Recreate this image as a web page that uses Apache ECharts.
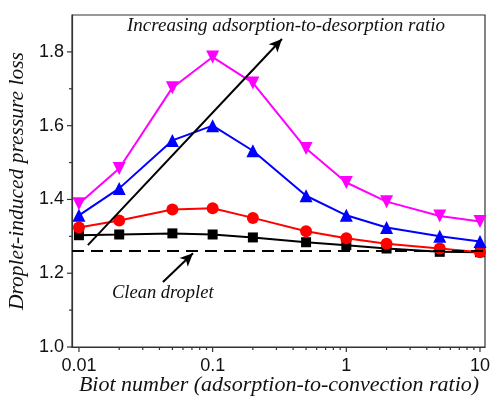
<!DOCTYPE html>
<html>
<head>
<meta charset="utf-8">
<script src="https://cdn.jsdelivr.net/npm/echarts@6/dist/echarts.min.js"></script>
<style>
  html, body { margin: 0; padding: 0; background: #fff; }
  #chart { width: 491px; height: 398px; }
</style>
</head>
<body>
<div id="chart"></div>
<script>
// Biot numbers (x) and pressure loss per adsorption-to-desorption ratio
const biot = [0.01, 0.02, 0.05, 0.1, 0.2, 0.5, 1, 2, 5, 10];
const lossBlack = [1.303, 1.305, 1.308, 1.305, 1.297, 1.284, 1.276, 1.267, 1.258, 1.257];
const lossRed = [1.324, 1.343, 1.373, 1.376, 1.350, 1.314, 1.295, 1.280, 1.267, 1.257];
const lossBlue = [1.357, 1.430, 1.560, 1.600, 1.532, 1.410, 1.357, 1.324, 1.300, 1.286];
const lossMagenta = [1.388, 1.484, 1.703, 1.786, 1.716, 1.538, 1.446, 1.394, 1.355, 1.340];
const cleanLoss = 1.257;

// annotation arrows: [tail, head] in data coords
const trendArrow = [[0.01166, 1.276], [0.33, 1.835]];
const cleanArrow = [[0.0425, 1.176], [0.0713, 1.254]];

// axes
const xMin = 0.00887, xMax = 10.9;
const yMin = 1.0, yMax = 1.9;
const xMajorTicks = [0.01, 0.1, 1, 10];
const xTickLabels = ['0.01', '0.1', '1', '10'];
const xMinorTicks = [0.02, 0.03, 0.04, 0.05, 0.06, 0.07, 0.08, 0.09,
  0.2, 0.3, 0.4, 0.5, 0.6, 0.7, 0.8, 0.9,
  2, 3, 4, 5, 6, 7, 8, 9];
const yMajorTicks = [1.0, 1.2, 1.4, 1.6, 1.8];
const yMinorTicks = [1.1, 1.3, 1.5, 1.7];

const axisColor = '#333';
const serif = '"Liberation Serif", "DejaVu Serif", serif';
const sans = '"Liberation Sans", Arial, sans-serif';

const tickData = [];
xMajorTicks.forEach(v => tickData.push([v, yMin, 0, 5]));
xMinorTicks.forEach(v => tickData.push([v, yMin, 0, 3]));
yMajorTicks.forEach(v => tickData.push([xMin, v, 1, 5]));
yMinorTicks.forEach(v => tickData.push([xMin, v, 1, 3]));

function pairs(ys) {
  return biot.map((x, i) => [x, ys[i]]);
}

function lineSeries(name, ys, color, symbol, size, rotate) {
  return {
    name,
    type: 'line',
    data: pairs(ys),
    symbol,
    symbolSize: size,
    symbolRotate: rotate || 0,
    showAllSymbol: true,
    lineStyle: { color, width: 2 },
    itemStyle: { color },
    z: 3
  };
}

function arrow(pts) {
  return [
    { coord: pts[0], symbol: 'none' },
    { coord: pts[1], symbol: 'arrow', symbolSize: [9, 13] }
  ];
}

const chart = echarts.init(document.getElementById('chart'));
chart.setOption({
  animation: false,
  backgroundColor: '#fff',
  grid: {
    left: 72, right: 6, top: 15, bottom: 51,
    outerBoundsMode: 'none',
    containLabel: false,
    show: true, borderColor: axisColor, borderWidth: 1.2
  },
  xAxis: {
    type: 'log',
    logBase: 10,
    min: xMin,
    max: xMax,
    axisLine: { show: true, lineStyle: { color: axisColor, width: 1.2 } },
    axisTick: { show: false },
    splitLine: { show: false },
    axisLabel: {
      margin: 10,
      fontFamily: sans,
      fontSize: 18,
      color: '#111',
      showMinLabel: true,
      showMaxLabel: true,
      formatter: function (v) {
        const i = xMajorTicks.findIndex(t => Math.abs(Math.log10(t) - Math.log10(v)) < 1e-6);
        return i >= 0 ? xTickLabels[i] : '';
      }
    }
  },
  yAxis: {
    type: 'value',
    min: yMin,
    max: yMax,
    interval: 0.1,
    axisLine: { show: true, lineStyle: { color: axisColor, width: 1.2 } },
    axisTick: { show: false },
    splitLine: { show: false },
    axisLabel: {
      margin: 8,
      fontFamily: sans,
      fontSize: 18,
      color: '#111',
      formatter: function (v) {
        const i = yMajorTicks.findIndex(t => Math.abs(t - v) < 1e-6);
        return i >= 0 ? yMajorTicks[i].toFixed(1) : '';
      }
    },
    name: 'Droplet-induced pressure loss',
    nameLocation: 'middle',
    nameGap: 44,
    nameTextStyle: { fontFamily: serif, fontStyle: 'italic', fontSize: 21.5, color: '#111' }
  },
  graphic: [
    {
      type: 'text', x: 279, y: 374,
      style: {
        text: 'Biot number (adsorption-to-convection ratio)',
        font: 'italic 22px ' + serif, fill: '#111',
        textAlign: 'center', textVerticalAlign: 'top'
      }
    },
    {
      type: 'text', left: 127, top: 16,
      style: {
        text: 'Increasing adsorption-to-desorption ratio',
        font: 'italic 19px ' + serif, fill: '#111'
      }
    },
    {
      type: 'text', left: 112, top: 284,
      style: {
        text: 'Clean droplet',
        font: 'italic 18.5px ' + serif, fill: '#111'
      }
    }
  ],
  series: [
    {
      name: 'ticks',
      type: 'custom',
      silent: true,
      clip: false,
      data: tickData,
      renderItem: function (params, api) {
        const p = api.coord([api.value(0), api.value(1)]);
        const len = api.value(3);
        const shape = api.value(2) === 0
          ? { x1: p[0], y1: p[1], x2: p[0], y2: p[1] + len }
          : { x1: p[0], y1: p[1], x2: p[0] - len, y2: p[1] };
        return { type: 'line', shape, style: { stroke: axisColor, lineWidth: 1.2 } };
      },
      z: 1
    },
    {
      name: 'Clean droplet',
      type: 'line',
      data: [],
      markLine: {
        silent: true,
        symbol: 'none',
        label: { show: false },
        lineStyle: { color: '#000', width: 2, type: [12, 7] },
        data: [{ yAxis: cleanLoss }]
      },
      z: 2
    },
    lineSeries('black', lossBlack, '#000000', 'rect', 10),
    lineSeries('red', lossRed, '#ff0000', 'circle', 12),
    lineSeries('blue', lossBlue, '#0000ff', 'triangle', 13),
    lineSeries('magenta', lossMagenta, '#ff00ff', 'triangle', 13, 180),
    {
      name: 'arrows',
      type: 'line',
      data: [],
      markLine: {
        silent: true,
        label: { show: false },
        lineStyle: { color: '#000', width: 2, type: 'solid' },
        data: [arrow(trendArrow), arrow(cleanArrow)]
      },
      z: 4
    }
  ]
});
</script>
</body>
</html>
